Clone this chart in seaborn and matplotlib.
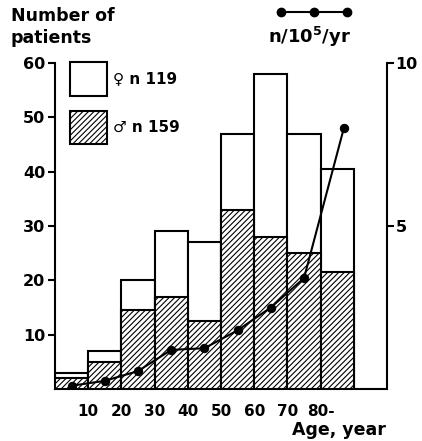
import matplotlib
matplotlib.use("Agg")
import matplotlib.pyplot as plt
import seaborn as sns
import numpy as np
from matplotlib.patches import Patch
from matplotlib.lines import Line2D

# ---- data ----
age_mid = [5, 15, 25, 35, 45, 55, 65, 75, 85]
total_patients = [3, 7, 20, 29, 27, 47, 58, 47, 40.5]
male_patients = [2, 5, 14.5, 17, 12.5, 33, 28, 25, 21.5]
rate_age = [5, 15, 25, 35, 45, 55, 65, 75, 87]
rate_per_100k = [0.1, 0.25, 0.55, 1.2, 1.25, 1.8, 2.5, 3.4, 8.0]
x_ticks = [10, 20, 30, 40, 50, 60, 70, 80, 90]
x_ticklabels = ["10", "20", "30", "40", "50", "60", "70", "80-", ""]
y_ticks = [10, 20, 30, 40, 50, 60]
y2_ticks = [5, 10]

sns.set_style("white")
plt.rcParams["font.family"] = ["DejaVu Sans"]
plt.rcParams["font.weight"] = "bold"
plt.rcParams["mathtext.default"] = "bf"
plt.rcParams["hatch.linewidth"] = 0.8
for k in ["text.color", "axes.labelcolor", "xtick.color", "ytick.color", "axes.edgecolor"]:
    plt.rcParams[k] = "black"

fig = plt.figure(figsize=(4.22, 4.41), dpi=100)
ax = fig.add_axes([55/422, 1-389/441, (387-55)/422, (389-63)/441])

LW = 1.5
sns.barplot(x=age_mid, y=total_patients, native_scale=True, width=1,
            color="white", edgecolor="black", linewidth=LW, errorbar=None,
            ax=ax, zorder=2)
sns.barplot(x=age_mid, y=male_patients, native_scale=True, width=1,
            color="white", edgecolor="black", linewidth=LW, errorbar=None,
            hatch="//////", ax=ax, zorder=3)

ax.set_xlim(0, 100)
ax.set_ylim(0, 60)
ax.set_xlabel("")
ax.set_ylabel("")
ax.set_xticks(x_ticks)
ax.set_xticklabels(x_ticklabels, fontsize=11, fontweight="bold")
ax.set_yticks(y_ticks)
ax.set_yticklabels([str(v) for v in y_ticks], fontsize=11.5, fontweight="bold")
ax.tick_params(axis="both", direction="out", length=5, width=LW, colors="black")
ax.tick_params(axis="x", pad=6)
ax.tick_params(axis="y", pad=2)
for s in ["top", "right"]:
    ax.spines[s].set_visible(False)
for s in ["left", "bottom"]:
    ax.spines[s].set_linewidth(LW)
    ax.spines[s].set_color("black")

# twin axis for rate
ax2 = ax.twinx()
ax2.set_ylim(0, 10)
sns.lineplot(x=rate_age, y=rate_per_100k, color="black", linewidth=LW,
             marker="o", markersize=6, markeredgecolor="black", ax=ax2, zorder=5)
ax2.set_xlim(0, 100)
ax2.set_yticks(y2_ticks)
ax2.set_yticklabels([str(v) for v in y2_ticks], fontsize=11.5, fontweight="bold")
ax2.tick_params(axis="y", direction="out", length=5, width=LW, colors="black", pad=1)
ax2.set_ylabel("")
for s in ["top", "left", "bottom"]:
    ax2.spines[s].set_visible(False)
ax2.spines["right"].set_linewidth(LW)
ax2.spines["right"].set_color("black")

# legend for bars
handles = [Patch(facecolor="white", edgecolor="black", linewidth=LW),
           Patch(facecolor="white", edgecolor="black", linewidth=LW, hatch="//////")]
leg = ax.legend(handles, ["\u2640 n 119", "\u2642 n 159"], loc="upper left",
                bbox_to_anchor=(0.045, 1.003), frameon=False, borderpad=0,
                borderaxespad=0, handlelength=2.4, handleheight=3.0,
                labelspacing=1.0, handletextpad=0.4,
                prop={"size": 11, "weight": "bold"})

# key for rate line
key = Line2D([], [], color="black", linewidth=LW, marker="o", markersize=6)
fig.legend([key], [""], loc="center", bbox_to_anchor=(314/422, 1-13/441),
           numpoints=3, handlelength=5.3, frameon=False, borderpad=0,
           handletextpad=0)
fig.text(309/422, 1-37/441, "n/10$^5$/yr", ha="center", va="center",
         fontsize=13, fontweight="bold")

fig.text(11/422, 1-7/441, "Number of\npatients", ha="left", va="top",
         fontsize=12.5, fontweight="bold", linespacing=1.3)
fig.text(386/422, 1-430/441, "Age, year", ha="right", va="center",
         fontsize=12.5, fontweight="bold")

fig.savefig("out.png", dpi=100)
